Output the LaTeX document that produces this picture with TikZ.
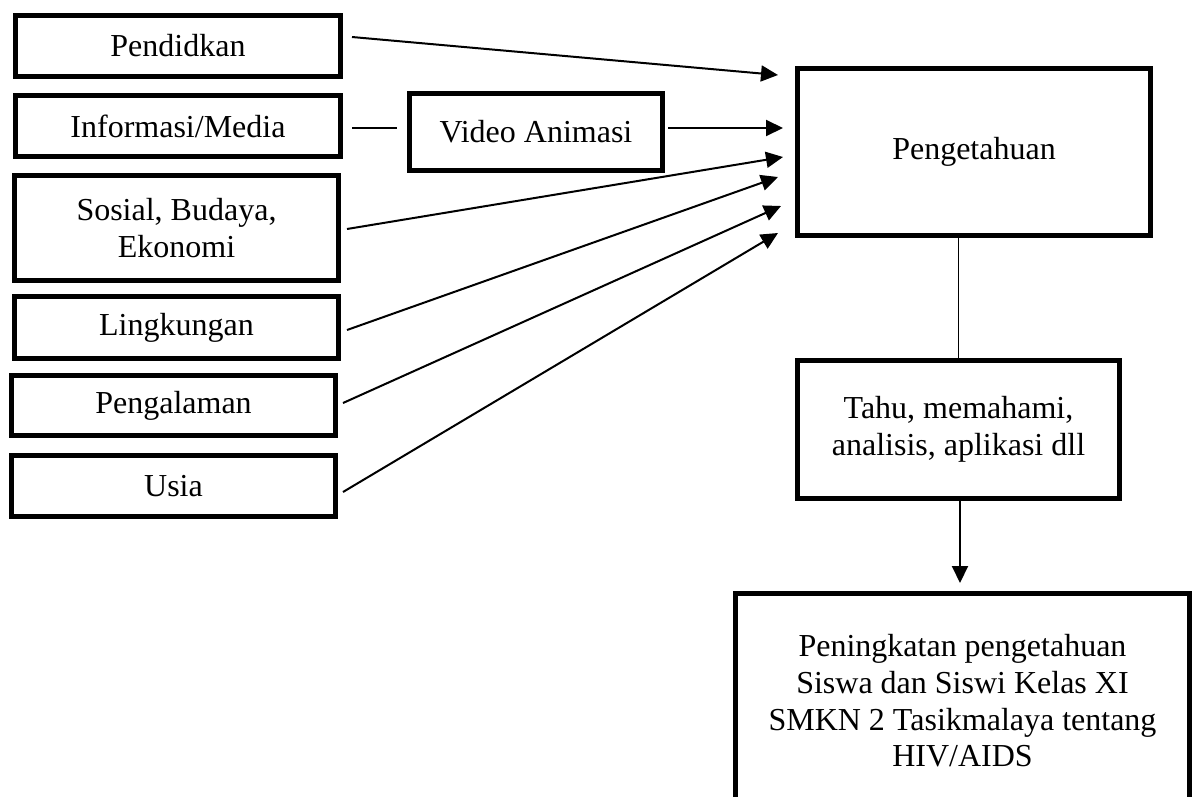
\documentclass[tikz,border=0pt]{standalone}
\usepackage{fontspec}
\setmainfont{Liberation Serif}
\usetikzlibrary{arrows.meta}
\begin{document}
\begin{tikzpicture}[x=1pt,y=-1pt,
  box/.style={draw=black,line width=5pt,inner sep=0pt,align=center,
    font=\fontsize{32}{36.7}\selectfont,text=black},
  conn/.style={line width=2pt},
  arr/.style={line width=2pt,-{Triangle[length=17pt,width=16pt]}}]
\useasboundingbox (0,0) rectangle (1192,796);
\fill[white] (0,0) rectangle (1192,796);
\clip (0,0) rectangle (1192,796);
% left boxes
\node[box,minimum width=325pt,minimum height=61pt] (p1) at (178,46) {Pendidkan};
\node[box,minimum width=325pt,minimum height=61pt] (p2) at (178,126) {Informasi/Media};
\node[box,minimum width=324pt,minimum height=105pt] (p3) at (176.5,228) {Sosial, Budaya,\\Ekonomi};
\node[box,minimum width=324pt,minimum height=62pt] (p4) at (176.5,327.5) {Lingkungan};
\node[box,minimum width=324pt,minimum height=60pt] (p5) at (173.5,405.5) {Pengalaman};
\node[box,minimum width=324pt,minimum height=61pt] (p6) at (173.5,486) {Usia};
\node[box,minimum width=253pt,minimum height=77pt] (va) at (536,132) {Video Animasi};
% right boxes
\node[box,minimum width=353pt,minimum height=167pt] (pg) at (974,152) {Pengetahuan};
\node[box,minimum width=322pt,minimum height=138pt] (th) at (958.5,429.5) {Tahu, memahami,\\analisis, aplikasi dll};
\node[box,minimum width=454pt,minimum height=216pt] (pk) at (962.5,701) {Peningkatan pengetahuan\\Siswa dan Siswi Kelas XI\\SMKN 2 Tasikmalaya tentang\\HIV/AIDS};
% connector end points
\coordinate (s1) at (352,37);  \coordinate (t1) at (778,75);
\coordinate (s2) at (352,128); \coordinate (t2) at (397,128);
\coordinate (s7) at (668,128); \coordinate (t7) at (783,128);
\coordinate (s3) at (347,229); \coordinate (t3) at (783,157);
\coordinate (s4) at (347,330); \coordinate (t4) at (778,177);
\coordinate (s5) at (343,403); \coordinate (t5) at (781,206);
\coordinate (s6) at (343,492); \coordinate (t6) at (778,233);
\coordinate (tk) at (960,583);
% connectors
\draw[arr] (s1) -- (t1);
\draw[conn] (s2) -- (t2);
\draw[arr] (s7) -- (t7);
\draw[arr] (s3) -- (t3);
\draw[arr] (s4) -- (t4);
\draw[arr] (s5) -- (t5);
\draw[arr] (s6) -- (t6);
\draw[line width=1.5pt] (th.north) -- (th.north |- pg.south);
\draw[arr] (th.south) ++(1.5,0) coordinate (th2) (th2) -- (tk);
\end{tikzpicture}
\end{document}
